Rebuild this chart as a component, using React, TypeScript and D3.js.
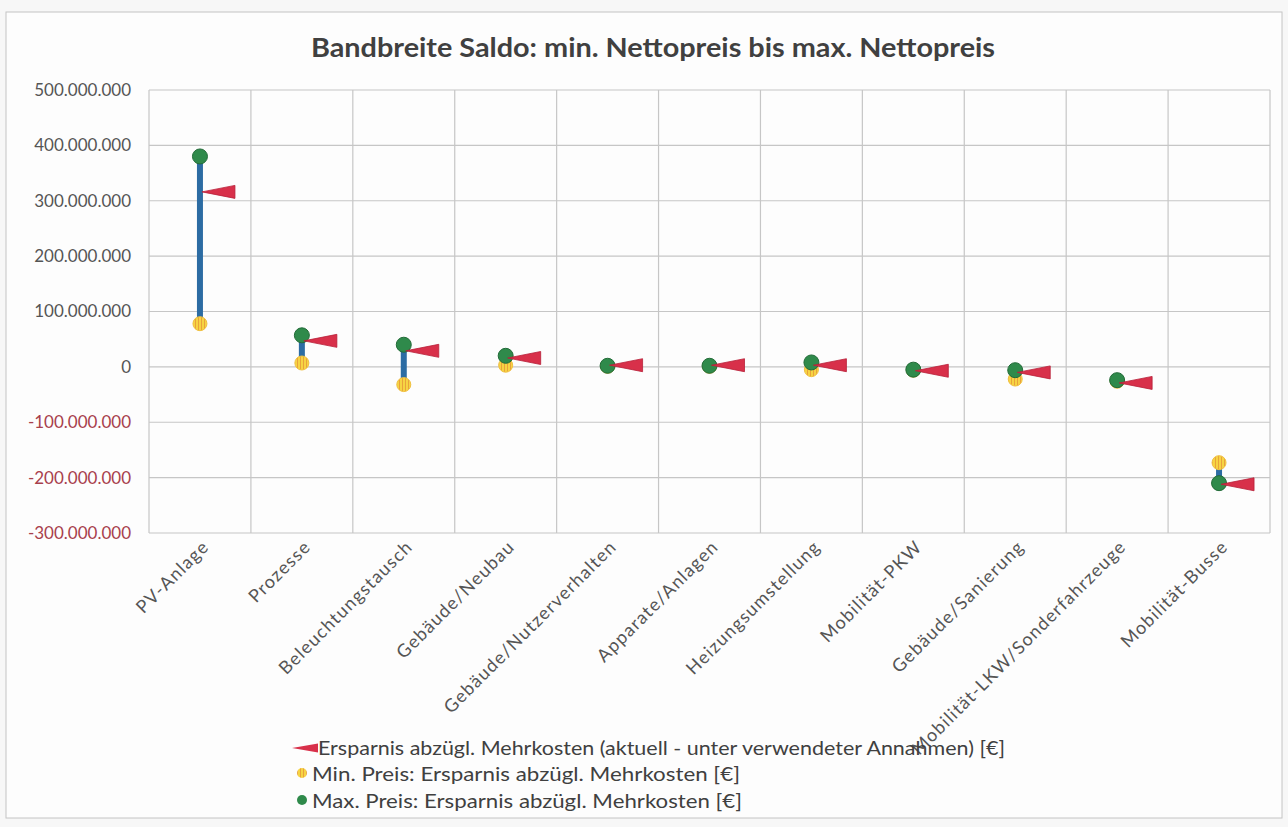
import React from "react";
import * as d3 from "d3";

const categories = [
  "PV-Anlage",
  "Prozesse",
  "Beleuchtungstausch",
  "Gebäude/Neubau",
  "Gebäude/Nutzerverhalten",
  "Apparate/Anlagen",
  "Heizungsumstellung",
  "Mobilität-PKW",
  "Gebäude/Sanierung",
  "Mobilität-LKW/Sonderfahrzeuge",
  "Mobilität-Busse",
];
// values in euro (millions * 1e6)
const maxPreis = [380, 57, 40, 20, 2, 2, 8, -5, -6, -24, -210].map((v) => v * 1e6);
const minPreis = [78, 7, -32, 3, 1, 1, -5, -6, -22, -26, -173].map((v) => v * 1e6);
const aktuell = [316, 47, 29, 16, 3, 3, 3, -7, -10, -29, -212].map((v) => v * 1e6);
const yTicks = [500, 400, 300, 200, 100, 0, -100, -200, -300].map((v) => v * 1e6);

const title = "Bandbreite Saldo: min. Nettopreis bis max. Nettopreis";
const legendLabels = [
  "Ersparnis abzügl. Mehrkosten (aktuell - unter verwendeter Annahmen) [€]",
  "Min. Preis: Ersparnis abzügl. Mehrkosten [€]",
  "Max. Preis: Ersparnis abzügl. Mehrkosten [€]",
];

const W = 1288;
const H = 827;
const plot = { left: 149, right: 1270, top: 90, bottom: 533 };
const FONT = "Lato, 'Open Sans', sans-serif";

const locale = d3.formatLocale({
  decimal: ",",
  thousands: ".",
  grouping: [3],
  currency: ["", "€"],
  minus: "-",
});
const fmt = locale.format(",d");

export default function App() {
  const x = d3
    .scaleBand<string>()
    .domain(categories)
    .range([plot.left, plot.right])
    .paddingInner(0)
    .paddingOuter(0);
  const y = d3.scaleLinear().domain([-300e6, 500e6]).range([plot.bottom, plot.top]);
  const cx = (c: string) => (x(c) as number) + x.bandwidth() / 2;
  const bounds = categories.map((c) => x(c) as number).concat([plot.right]);

  const tri = (px: number, py: number) =>
    `M${px + 2},${py} L${px + 35},${py - 6.5} L${px + 35},${py + 6.5} Z`;

  return (
    <svg
      width={W}
      height={H}
      style={{ position: "absolute", left: 0, top: 0, background: "#f7f7f7" }}
      fontFamily={FONT}
    >
      <defs>
        <pattern id="yel" width="3" height="4" patternUnits="userSpaceOnUse">
          <rect width="3" height="4" fill="#f6d443" />
          <rect width="1" height="4" fill="#e9a23a" />
        </pattern>
      </defs>
      <rect x={6} y={12} width={1276} height={806} fill="#fdfdfd" stroke="#c4c4c4" strokeWidth={1} />

      <text
        x={653}
        y={57}
        textAnchor="middle"
        fontSize={26}
        fontWeight={700}
        fill="#404040"
        textLength={684}
        lengthAdjust="spacingAndGlyphs"
      >
        {title}
      </text>

      {/* gridlines */}
      {yTicks.map((t) => (
        <line key={"h" + t} x1={plot.left} x2={plot.right} y1={y(t)} y2={y(t)} stroke="#c6c6c6" strokeWidth={1.2} />
      ))}
      {bounds.map((b, i) => (
        <line key={"v" + i} x1={b} x2={b} y1={plot.top} y2={plot.bottom} stroke="#c6c6c6" strokeWidth={1.2} />
      ))}

      {/* y labels */}
      {yTicks.map((t) => (
        <text
          key={"yl" + t}
          x={131}
          y={y(t)}
          dy="0.35em"
          textAnchor="end"
          fontSize={17}
          fill={t < 0 ? "#a8404c" : "#555555"}
        >
          {fmt(t)}
        </text>
      ))}

      {/* x labels */}
      {categories.map((c) => (
        <text
          key={"xl" + c}
          transform={`translate(${cx(c) + 10},${548}) rotate(-45)`}
          textAnchor="end"
          fontSize={18}
          letterSpacing={1.2}
          fill="#555555"
        >
          {c}
        </text>
      ))}

      {/* high-low lines */}
      {categories.map((c, i) => (
        <line
          key={"hl" + c}
          x1={cx(c)}
          x2={cx(c)}
          y1={y(minPreis[i])}
          y2={y(maxPreis[i])}
          stroke="#2c6ca3"
          strokeWidth={6}
        />
      ))}
      {categories.map((c, i) => (
        <circle key={"mn" + c} cx={cx(c)} cy={y(minPreis[i])} r={7} fill="url(#yel)" stroke="#f0c040" strokeWidth={1} />
      ))}
      {categories.map((c, i) => (
        <circle key={"mx" + c} cx={cx(c)} cy={y(maxPreis[i])} r={7.5} fill="#2f8a4b" stroke="#226b38" strokeWidth={1} />
      ))}
      {categories.map((c, i) => (
        <path key={"ak" + c} d={tri(cx(c), y(aktuell[i]))} fill="#d8304a" stroke="#b82038" strokeWidth={0.8} />
      ))}

      {/* legend */}
      <path d="M292,748 L318,743.5 L318,752.5 Z" fill="#d8304a" />
      <text
        x={318}
        y={748}
        dy="0.35em"
        fontSize={20}
        fill="#404040"
        textLength={687}
        lengthAdjust="spacingAndGlyphs"
      >
        {legendLabels[0]}
      </text>
      <circle cx={302} cy={773} r={5} fill="url(#yel)" />
      <text
        x={312}
        y={774}
        dy="0.35em"
        fontSize={20}
        fill="#404040"
        textLength={428}
        lengthAdjust="spacingAndGlyphs"
      >
        {legendLabels[1]}
      </text>
      <circle cx={302} cy={800} r={5} fill="#2f8a4b" />
      <text
        x={312}
        y={801}
        dy="0.35em"
        fontSize={20}
        fill="#404040"
        textLength={430}
        lengthAdjust="spacingAndGlyphs"
      >
        {legendLabels[2]}
      </text>
    </svg>
  );
}
